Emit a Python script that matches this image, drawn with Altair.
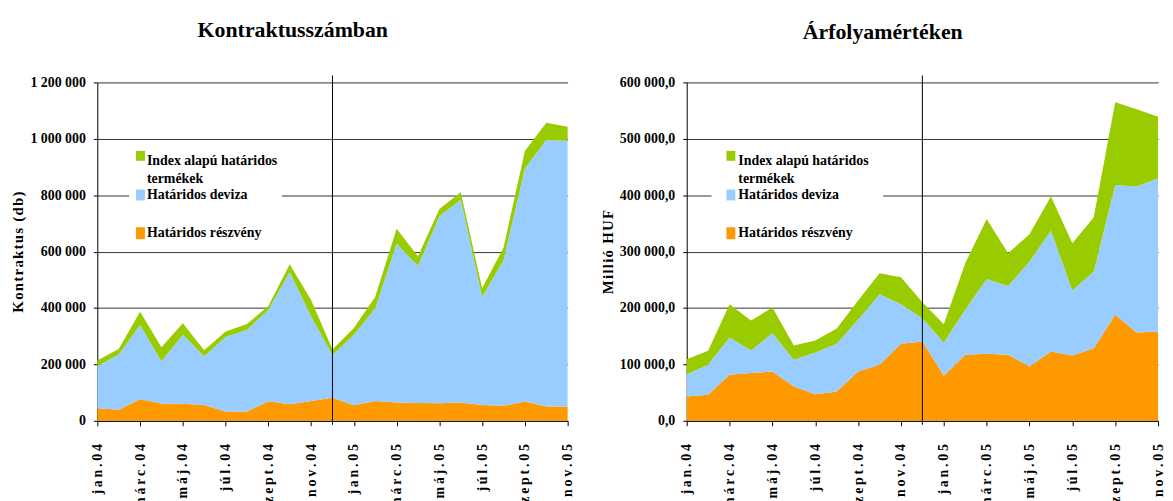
import altair as alt
import pandas as pd

# ---------------- data ----------------
months = ["jan.04", "febr.04", "márc.04", "ápr.04", "máj.04", "jún.04", "júl.04",
          "aug.04", "szept.04", "okt.04", "nov.04", "dec.04",
          "jan.05", "febr.05", "márc.05", "ápr.05", "máj.05", "jún.05", "júl.05",
          "aug.05", "szept.05", "okt.05", "nov.05"]
tick_months = months[::2]
divider_month = ["dec.04"]

series = ["Határidos részvény", "Határidos deviza", "Index alapú határidos termékek"]
colors = ["#FF9900", "#99CCFF", "#99CC00"]

# Kontraktusszámban (db)
reszveny_db = [44600, 38700, 76300, 61000, 60000, 56000, 33000, 33000, 69000, 58700, 70000, 82000,
               55000, 70000, 64600, 63400, 62000, 64600, 56000, 53000, 68000, 50500, 50500]
deviza_db = [149100, 196300, 263700, 150000, 245000, 173000, 264000, 290000, 324000, 469300, 300000, 151000,
             250000, 329000, 563400, 485600, 663000, 719400, 384000, 516000, 826600, 945000, 941500]
index_db = [20000, 19800, 47000, 49600, 41000, 21000, 20000, 20000, 14000, 27000, 58500, 20000,
            24000, 41000, 53000, 34500, 26000, 26000, 29600, 45000, 62400, 61100, 50500]

# Árfolyamértéken (millió HUF)
reszveny_huf = [43100, 46000, 81500, 84500, 87400, 60800, 47200, 52000, 87400, 99200, 136400, 140600,
                79700, 117000, 118700, 117000, 96300, 122800, 115800, 128700, 187800, 156500, 158300]
deviza_huf = [39600, 53200, 66100, 40100, 67900, 47200, 73800, 84400, 91600, 125200, 70300, 41300,
              59100, 79700, 132900, 122200, 186000, 214400, 115100, 135900, 230300, 258700, 271700]
index_huf = [26600, 24800, 59100, 53200, 45500, 25500, 21300, 27200, 34200, 37200, 47900, 28400,
             32500, 82700, 106300, 57900, 48400, 60300, 83900, 96300, 146500, 137000, 109200]

y_ticks_db = [0, 200000, 400000, 600000, 800000, 1000000, 1200000]
y_ticks_huf = [0, 100000, 200000, 300000, 400000, 500000, 600000]

titles = ["Kontraktusszámban", "Árfolyamértéken"]
y_titles = ["Kontraktus (db)", "Millió HUF"]

# ---------------- styling ----------------
FONT = "Liberation Serif"
H = 341
HAIR = "\u200a"
THIN = "\u2009"


def long_table(vals_list):
    rows = []
    for i, (name, vals) in enumerate(zip(series, vals_list)):
        for m, v in zip(months, vals):
            rows.append({"month": m, "series": name, "value": v, "order": i})
    return pd.DataFrame(rows)


def legend_layers(sq_x, txt_x, box):
    bx0, bx1, by0, by1 = box
    layers = [
        alt.Chart(pd.DataFrame({"b": [0]})).mark_rect(color="white").encode(
            x=alt.value(bx0), x2=alt.value(bx1), y=alt.value(by0), y2=alt.value(by1))
    ]
    # squares: index, deviza, reszveny
    sq_y = [(69, 79), (108, 119), (146, 158)]
    for (y0, y1), name, c in zip(sq_y, [series[2], series[1], series[0]],
                                 [colors[2], colors[1], colors[0]]):
        layers.append(
            alt.Chart(pd.DataFrame({"s": [name]})).mark_rect(color=c).encode(
                x=alt.value(sq_x), x2=alt.value(sq_x + 9), y=alt.value(y0), y2=alt.value(y1)))
    first, second = series[2].rsplit(" ", 1)
    lines = [(first, 83), (second, 101), (series[1], 118), (series[0], 156)]
    for t, y in lines:
        layers.append(
            alt.Chart(pd.DataFrame({"t": [t]})).mark_text(
                align="left", baseline="alphabetic", font=FONT, fontSize=14,
                fontWeight="bold", color="black").encode(
                text="t:N", x=alt.value(txt_x), y=alt.value(y)))
    return layers


def panel(vals_list, title, ytitle, yticks, label_expr, width, sq_x, txt_x, box, title_dy):
    df = long_table(vals_list)
    x = alt.X("month:O", sort=months,
              scale=alt.Scale(type="point", domain=months, padding=0),
              axis=alt.Axis(values=tick_months, labelAngle=-90,
                            labelExpr="join(split(datum.label, ''), '" + THIN + "')",
                            title=None, grid=False, tickSize=5, labelPadding=18,
                            labelFont=FONT, labelFontSize=14, labelFontWeight="bold",
                            labelColor="black", domainColor="black", tickColor="black",
                            labelOverlap=False))
    y = alt.Y("value:Q", stack="zero",
              scale=alt.Scale(domain=[yticks[0], yticks[-1]], nice=False),
              axis=alt.Axis(values=yticks, labelExpr=label_expr,
                            title=HAIR.join(ytitle), titleFont=FONT, titleFontSize=15,
                            titleFontWeight="bold", titleColor="black", titlePadding=4,
                            labelFont=FONT, labelFontSize=14, labelFontWeight="bold",
                            labelColor="black", labelPadding=8, tickSize=4,
                            grid=True, gridColor="#333333", gridWidth=1,
                            domainColor="black", tickColor="black"))
    area = alt.Chart(df).mark_area(interpolate="linear", opacity=1).encode(
        x=x, y=y,
        color=alt.Color("series:N", scale=alt.Scale(domain=series, range=colors), legend=None),
        order=alt.Order("order:Q", sort="ascending"),
    )
    rule = alt.Chart(pd.DataFrame({"month": divider_month})).mark_rule(
        color="black", strokeWidth=1).encode(
        x=alt.X("month:O", sort=months), y=alt.value(-7), y2=alt.value(H + 4))
    layers = [area, rule] + legend_layers(sq_x, txt_x, box)
    return alt.layer(*layers).properties(
        width=width, height=H,
        title=alt.TitleParams(title, font=FONT, fontSize=22, fontWeight="bold",
                              color="black", anchor="middle", frame="bounds",
                              offset=34, dy=title_dy))


left = panel([reszveny_db, deviza_db, index_db], titles[0], y_titles[0], y_ticks_db,
             "replace(format(datum.value, ','), regexp(',', 'g'), ' ')",
             474, 39, 50, (32, 186, 61, 166), 1)
right = panel([reszveny_huf, deviza_huf, index_huf], titles[1], y_titles[1], y_ticks_huf,
              "replace(replace(format(datum.value, ',.1f'), regexp(',', 'g'), ' '), '.', ',')",
              475, 40, 52, (25, 198, 61, 166), 3)

chart = alt.hconcat(left, right, spacing=25).properties(
    padding={"left": 3, "top": 9, "right": 0, "bottom": 5}
).configure_view(stroke=None)

chart.save("out.html", embed_options={"renderer": "svg", "actions": False})
